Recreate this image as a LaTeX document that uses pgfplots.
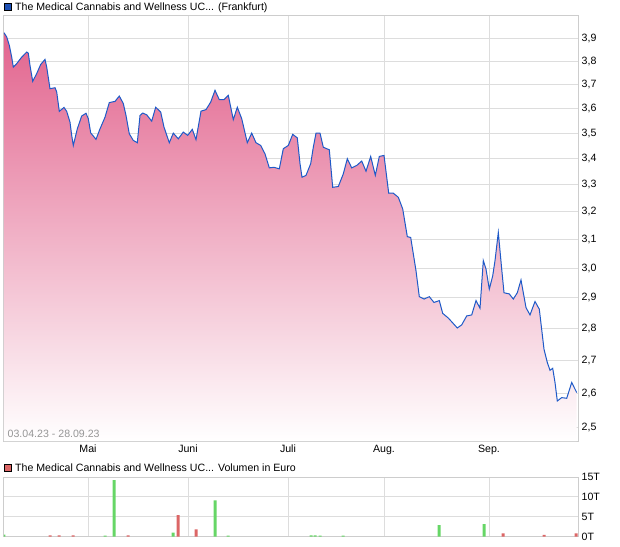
\documentclass[border=0pt]{standalone}
\usepackage{pgfplots}
\pgfplotsset{compat=1.18}
\usepackage{fontspec}
\setmainfont{Liberation Sans}

\definecolor{pricefill}{RGB}{226,100,142}
\definecolor{priceline}{RGB}{30,90,200}
\definecolor{gridgray}{RGB}{221,221,221}
\definecolor{framegray}{RGB}{205,205,205}
\definecolor{volgreen}{RGB}{102,214,102}
\definecolor{volred}{RGB}{220,102,102}
\definecolor{labelgray}{RGB}{150,150,150}
\definecolor{keyblue}{RGB}{30,80,180}

\newcommand\chartfont{\fontsize{10.6}{12.7}\selectfont}

\pgfplotsset{
  chartbox/.style={
    scale only axis,
    xmin=4, xmax=578,
    xtick={88,188,288,384,489},
    grid=major,
    major grid style={gridgray, line width=1pt},
    axis line style={framegray, line width=1pt},
    major tick length=0pt,
    tick style={draw=none},
    yticklabel pos=right,
    yticklabel style={anchor=west, inner sep=3.5pt},
    tick label style={font=\chartfont, black},
  }
}

\begin{document}
\begin{tikzpicture}[font=\chartfont]
\path[use as bounding box] (0pt,0pt) rectangle (620pt,-546pt);

% price legend
\draw[black, line width=0.8pt, fill=keyblue] (4pt,-3.2pt) rectangle (11.3pt,-10.5pt);
\node[anchor=base west, inner sep=0pt] at (15pt,-10.7pt) {The Medical Cannabis and Wellness UC... (Frankfurt)};

\begin{axis}[chartbox,
  at={(4pt,-16pt)}, anchor=north west,
  width=574pt, height=425pt,
  ymode=log, log origin y=infty,
  ymin=2.463, ymax=4.0,
  ytick={2.5,2.6,2.7,2.8,2.9,3.0,3.1,3.2,3.3,3.4,3.5,3.6,3.7,3.8,3.9},
  yticklabels={{2,5},{2,6},{2,7},{2,8},{2,9},{3,0},{3,1},{3,2},{3,3},{3,4},{3,5},{3,6},{3,7},{3,8},{3,9}},
  xticklabels={Mai,Juni,Juli,Aug.,Sep.},
  xticklabel style={anchor=north, inner sep=4pt},
]
\pgfplotstableread{
x v
4 3.925
6.7 3.906
9.3 3.869
11.7 3.817
13.3 3.774
16.7 3.789
21.7 3.817
26.7 3.839
28.3 3.834
30 3.781
32.7 3.713
36.7 3.746
40.7 3.785
45 3.807
46.7 3.774
50 3.682
55 3.686
56.7 3.668
59.3 3.588
64 3.604
66.7 3.588
70 3.544
71.7 3.491
73.3 3.451
77.3 3.517
81.7 3.569
86 3.580
88.3 3.558
90.7 3.501
96 3.475
100 3.517
105 3.564
109.3 3.624
115 3.629
119.3 3.651
123.3 3.620
126 3.571
129.3 3.497
133.3 3.471
137.3 3.462
140 3.571
142.7 3.581
146.7 3.574
151.7 3.548
155.7 3.605
160.7 3.585
164 3.524
169.3 3.462
173.3 3.500
178.3 3.477
183.3 3.504
187.7 3.491
192.3 3.515
196 3.474
201 3.589
206 3.595
210.7 3.626
215 3.675
219.3 3.636
224 3.636
228.3 3.654
233.3 3.554
237.3 3.605
241.7 3.558
247.3 3.462
251.7 3.500
256 3.462
260.7 3.451
265 3.418
269.3 3.364
274 3.366
279.3 3.360
283.3 3.438
288.3 3.451
292.7 3.495
297.3 3.481
300 3.380
302 3.328
306 3.335
310.7 3.380
313.3 3.444
316 3.500
320 3.500
323.3 3.444
329.3 3.434
332.7 3.290
338.3 3.293
343.3 3.341
347.3 3.399
351.7 3.364
356.7 3.373
361.7 3.390
366 3.351
370.7 3.408
375.3 3.335
379.3 3.408
384 3.412
388.7 3.268
393.3 3.268
398.3 3.253
402.7 3.210
407.3 3.110
410.7 3.107
416 2.991
419.3 2.904
424 2.896
429.3 2.904
434 2.885
439.3 2.891
442.7 2.849
448.3 2.834
457.3 2.802
461.7 2.812
466.7 2.841
471.7 2.844
476 2.891
480 2.866
483.3 3.026
486 2.997
489.3 2.929
492.7 2.974
495 3.026
498.3 3.125
501.7 2.997
504 2.917
509.3 2.913
513.3 2.896
517.3 2.917
521 2.960
526 2.868
530 2.844
535 2.888
539.3 2.863
544 2.735
547.3 2.694
550 2.670
552.7 2.676
555 2.633
557.3 2.578
561.7 2.588
566.7 2.586
571.7 2.633
576.7 2.603
}\pricetable
\addplot[draw=none, top color=pricefill, bottom color=white] table[x=x,y=v] {\pricetable} \closedcycle;
\addplot[priceline, line width=1pt, mark=none] table[x=x,y=v] {\pricetable};
\end{axis}

\node[anchor=base west, inner sep=0pt, text=labelgray] at (7.5pt,-437.7pt) {03.04.23 - 28.09.23};

% volume legend
\draw[black, line width=0.8pt, fill=volred] (4pt,-464.3pt) rectangle (11.3pt,-471.6pt);
\node[anchor=base west, inner sep=0pt] at (15pt,-471.7pt) {The Medical Cannabis and Wellness UC... Volumen in Euro};

\begin{axis}[chartbox,
  at={(4pt,-477pt)}, anchor=north west,
  width=574pt, height=59.5pt,
  ymin=0, ymax=15,
  ytick={0,5,10,15},
  yticklabels={0T,5T,10T,15T},
  xticklabels={},
]
\addplot[ybar, bar width=3pt, bar shift=0pt, fill=volgreen, draw=none] coordinates {
(4,0.5) (105,0.25) (114,14.2) (173,1.0) (215,9.1) (228,0.2) (311,0.3) (315,0.3) (320,0.2) (343,0.2) (439,2.85) (484,3.1)
};
\addplot[ybar, bar width=3pt, bar shift=0pt, fill=volred, draw=none] coordinates {
(50,0.3) (59,0.3) (73,0.3) (128,0.3) (178,5.4) (196,1.8) (503,0.8) (544,0.4) (576,0.8)
};
\end{axis}
\end{tikzpicture}
\end{document}
